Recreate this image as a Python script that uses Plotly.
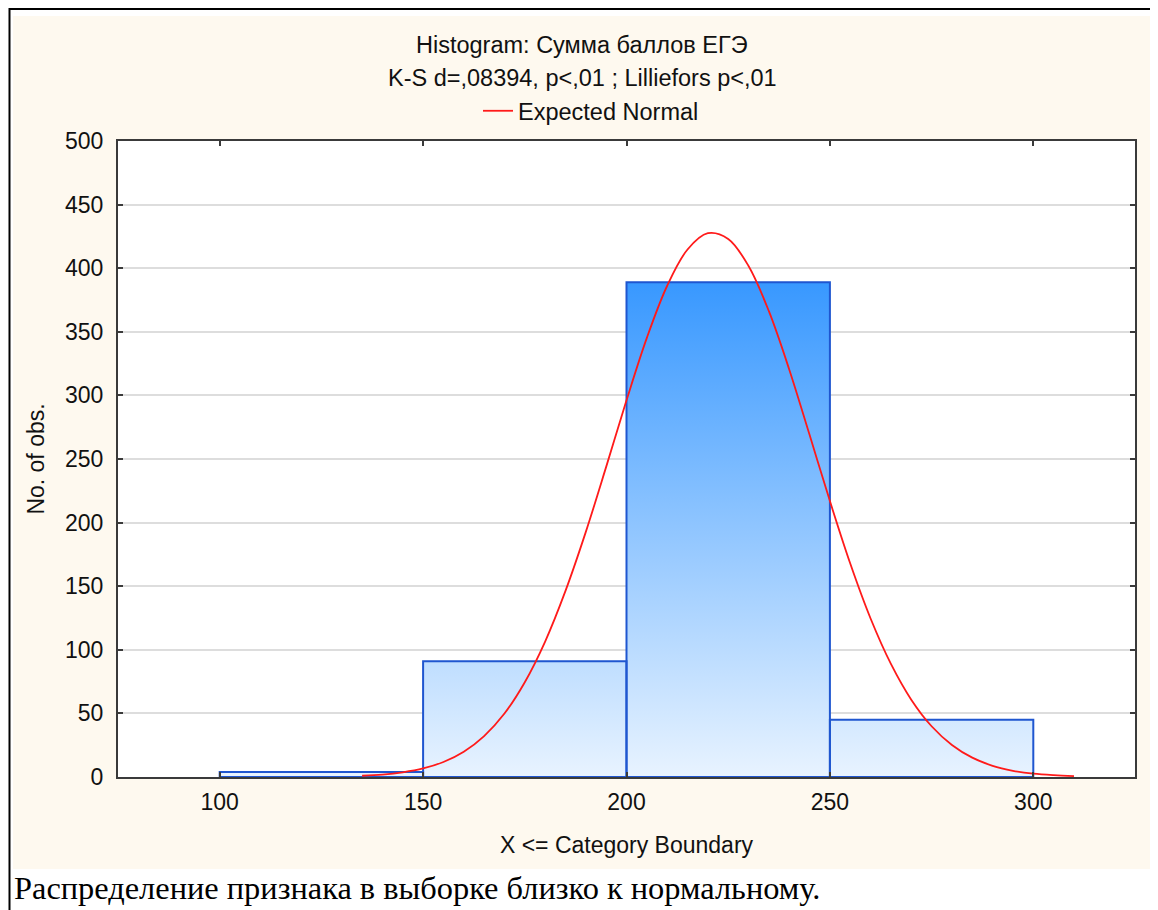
import plotly.graph_objects as go

# ---- data ----
bin_edges = [100, 150, 200, 250, 300]
bin_counts = [4, 91, 389, 45]

normal_x = [135, 140, 145, 150, 155, 160, 165, 170, 175, 180, 185, 190, 195, 200,
            205, 210, 215, 220, 225, 230, 235, 240, 245, 250, 255, 260, 265, 270,
            275, 280, 285, 290, 295, 300, 305, 310]
normal_y = [1.0, 1.9, 3.7, 6.7, 11.8, 19.9, 32.2, 49.9, 74.5, 106.5, 146.3, 192.7,
            243.8, 296.1, 345.2, 386.2, 414.7, 427.5, 423.0, 401.7, 366.2, 320.4,
            269.0, 216.9, 167.8, 124.6, 88.9, 60.8, 39.9, 25.2, 15.2, 8.8, 4.9,
            2.6, 1.4, 0.7]

x_ticks = [100, 150, 200, 250, 300]
y_ticks = [0, 50, 100, 150, 200, 250, 300, 350, 400, 450, 500]

title_line1 = "Histogram: Сумма баллов ЕГЭ"
title_line2 = "K-S d=,08394, p<,01 ; Lilliefors p<,01"
legend_name = "Expected Normal"
x_title = "X <= Category Boundary"
y_title = "No. of obs."
caption = "Распределение признака в выборке близко к нормальному."

# ---- geometry helpers (page pixel -> paper); page has an 8px body offset ----
OFF = 8
W, H = 1158, 910
L, R, T, B = 118 - OFF, 1135 - OFF, 141 - OFF, 777 - OFF
pw, ph = R - L, B - T


def px(x):
    return (x - OFF - L) / pw


def py(y):
    return (B - (y - OFF)) / ph


FONT = "Liberation Sans, Arial, sans-serif"
TXT = "#111111"

# bars as filled polygons (to allow vertical gradient fill)
bx, by = [], []
for i, c in enumerate(bin_counts):
    l, r = bin_edges[i], bin_edges[i + 1]
    bx += [l, l, r, r, l, None]
    by += [0, c, c, 0, 0, None]

fig = go.Figure()
fig.add_trace(go.Scatter(
    x=bx, y=by, mode="lines", fill="toself",
    line=dict(color="#1f56d0", width=2),
    fillgradient=dict(type="vertical", start=0, stop=max(bin_counts),
                      colorscale=[[0, "#e8f3ff"], [1, "#3898ff"]]),
    showlegend=False, hoverinfo="skip",
))
fig.add_trace(go.Scatter(
    x=normal_x, y=normal_y, mode="lines", name=legend_name,
    line=dict(color="#ff1a1a", width=1.8, shape="spline", smoothing=1.0),
))

shapes = [
    # cream chart background
    dict(type="rect", xref="paper", yref="paper", layer="below",
         x0=px(13), x1=px(1152), y0=py(869), y1=py(16),
         fillcolor="#fef9ef", line=dict(width=0)),
    # white plot area
    dict(type="rect", xref="paper", yref="paper", layer="below",
         x0=0, x1=1, y0=0, y1=1, fillcolor="white", line=dict(width=0)),
    # outer black frame
    dict(type="rect", xref="paper", yref="paper", layer="above",
         x0=px(9.5), x1=px(1190), y0=py(950), y1=py(9),
         fillcolor="rgba(0,0,0,0)", line=dict(color="black", width=2)),
]

annotations = [
    dict(text=title_line1, xref="paper", yref="paper", x=px(582), y=py(45),
         xanchor="center", yanchor="middle", showarrow=False,
         font=dict(family=FONT, size=23.5, color=TXT)),
    dict(text=title_line2, xref="paper", yref="paper", x=px(582), y=py(78),
         xanchor="center", yanchor="middle", showarrow=False,
         font=dict(family=FONT, size=23.5, color=TXT)),
    dict(text=caption, xref="paper", yref="paper", x=px(12), y=py(888),
         xanchor="left", yanchor="middle", showarrow=False,
         font=dict(family="Liberation Serif, Times New Roman, serif", size=32.4, color="black")),
]

fig.update_layout(
    width=W, height=H,
    margin=dict(l=L, r=W - R, t=T, b=H - B, pad=0),
    paper_bgcolor="white", plot_bgcolor="white",
    font=dict(family=FONT, size=23, color=TXT),
    shapes=shapes, annotations=annotations,
    showlegend=True,
    legend=dict(x=px(478), y=py(111), xanchor="left", yanchor="middle",
                bgcolor="rgba(0,0,0,0)", font=dict(family=FONT, size=23.5, color=TXT),
                itemwidth=30),
    xaxis=dict(range=[75, 325], tickvals=x_ticks, showgrid=False, zeroline=False,
               showline=True, mirror="ticks", linecolor="#3a3a3a", linewidth=2,
               ticks="inside", ticklen=5, tickcolor="#3a3a3a", tickwidth=1.5,
               ticklabelstandoff=3,
               title=dict(text=x_title, standoff=23, font=dict(family=FONT, size=23, color=TXT))),
    yaxis=dict(range=[0, 500], tickvals=y_ticks, showgrid=True, gridcolor="#dddddd",
               gridwidth=1.5, zeroline=False,
               showline=True, mirror="ticks", linecolor="#3a3a3a", linewidth=2,
               ticks="inside", ticklen=5, tickcolor="#3a3a3a", tickwidth=1.5,
               ticklabelstandoff=8,
               title=dict(text=y_title, standoff=14, font=dict(family=FONT, size=23, color=TXT))),
)

fig.write_html("out.html")
